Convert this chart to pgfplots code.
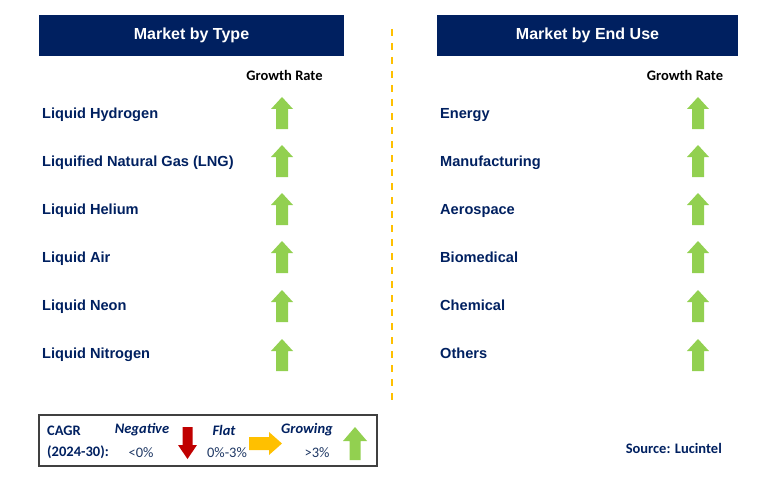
\documentclass[border=0pt]{standalone}
\usepackage{fontspec}
\setmainfont{Liberation Sans}
\newfontfamily\calibri{Carlito}
\usepackage{pgfplots}
\pgfplotsset{compat=1.18}
\definecolor{navy}{RGB}{0,32,96}
\definecolor{lblue}{RGB}{31,56,100}
\definecolor{agreen}{RGB}{146,208,80}
\definecolor{ared}{RGB}{192,0,0}
\definecolor{ayellow}{RGB}{255,192,0}
\definecolor{boxgray}{RGB}{64,64,64}
% main up arrow 22x32
\pgfdeclareplotmark{gup}{%
  \pgfpathmoveto{\pgfpoint{0pt}{16pt}}%
  \pgfpathlineto{\pgfpoint{11pt}{4pt}}%
  \pgfpathlineto{\pgfpoint{6pt}{4pt}}%
  \pgfpathlineto{\pgfpoint{6pt}{-16pt}}%
  \pgfpathlineto{\pgfpoint{-6pt}{-16pt}}%
  \pgfpathlineto{\pgfpoint{-6pt}{4pt}}%
  \pgfpathlineto{\pgfpoint{-11pt}{4pt}}%
  \pgfpathclose\pgfusepathqfill}
% legend up arrow 24x33
\pgfdeclareplotmark{lup}{%
  \pgfpathmoveto{\pgfpoint{0pt}{16.5pt}}%
  \pgfpathlineto{\pgfpoint{12pt}{2.5pt}}%
  \pgfpathlineto{\pgfpoint{5.5pt}{2.5pt}}%
  \pgfpathlineto{\pgfpoint{5.5pt}{-16.5pt}}%
  \pgfpathlineto{\pgfpoint{-5.5pt}{-16.5pt}}%
  \pgfpathlineto{\pgfpoint{-5.5pt}{2.5pt}}%
  \pgfpathlineto{\pgfpoint{-12pt}{2.5pt}}%
  \pgfpathclose\pgfusepathqfill}
% legend down arrow 19x32
\pgfdeclareplotmark{ldown}{%
  \pgfpathmoveto{\pgfpoint{0pt}{-16pt}}%
  \pgfpathlineto{\pgfpoint{9.5pt}{-2pt}}%
  \pgfpathlineto{\pgfpoint{5pt}{-2pt}}%
  \pgfpathlineto{\pgfpoint{5pt}{16pt}}%
  \pgfpathlineto{\pgfpoint{-5pt}{16pt}}%
  \pgfpathlineto{\pgfpoint{-5pt}{-2pt}}%
  \pgfpathlineto{\pgfpoint{-9.5pt}{-2pt}}%
  \pgfpathclose\pgfusepathqfill}
% legend right arrow 33x23
\pgfdeclareplotmark{lright}{%
  \pgfpathmoveto{\pgfpoint{16.5pt}{0pt}}%
  \pgfpathlineto{\pgfpoint{3.5pt}{11.5pt}}%
  \pgfpathlineto{\pgfpoint{3.5pt}{6.5pt}}%
  \pgfpathlineto{\pgfpoint{-16.5pt}{6.5pt}}%
  \pgfpathlineto{\pgfpoint{-16.5pt}{-6.5pt}}%
  \pgfpathlineto{\pgfpoint{3.5pt}{-6.5pt}}%
  \pgfpathlineto{\pgfpoint{3.5pt}{-11.5pt}}%
  \pgfpathclose\pgfusepathqfill}
\begin{document}
\begin{tikzpicture}
\begin{axis}[
  scale only axis, width=769pt, height=495pt,
  xmin=0, xmax=769, ymin=0, ymax=495, y dir=reverse,
  hide axis, clip=false]
\path (axis cs:0,0) rectangle (axis cs:769,495);
% header boxes
\fill[navy] (axis cs:39,15) rectangle (axis cs:344,56);
\fill[navy] (axis cs:437,15) rectangle (axis cs:738,56);
\node[text=white, font=\fontsize{16}{19}\selectfont\bfseries] at (axis cs:191.5,35.5) {Market by Type};
\node[text=white, font=\fontsize{16}{19}\selectfont\bfseries] at (axis cs:587.5,35.5) {Market by End Use};
% growth rate headers
\node[text=black, font=\fontsize{14.5}{17}\calibri\bfseries] at (axis cs:284.5,75) {Growth Rate};
\node[text=black, font=\fontsize{14.5}{17}\calibri\bfseries] at (axis cs:685,75) {Growth Rate};
% dashed divider
\draw[ayellow, line width=2pt, dash pattern=on 7pt off 7pt] (axis cs:392,29) -- (axis cs:392,401);
% labels
\begin{scope}[every node/.style={anchor=base west, text=navy, font=\fontsize{14.6}{17}\selectfont\bfseries, inner sep=0pt}]
\node at (axis cs:42,118.5) {Liquid Hydrogen};
\node at (axis cs:42,166.5) {Liquified Natural Gas (LNG)};
\node at (axis cs:42,214.5) {Liquid Helium};
\node at (axis cs:42,262.5) {Liquid Air};
\node at (axis cs:42,310.5) {Liquid Neon};
\node at (axis cs:42,358.5) {Liquid Nitrogen};
\node at (axis cs:440,118.5) {Energy};
\node at (axis cs:440,166.5) {Manufacturing};
\node at (axis cs:440,214.5) {Aerospace};
\node at (axis cs:440,262.5) {Biomedical};
\node at (axis cs:440,310.5) {Chemical};
\node at (axis cs:440,358.5) {Others};
\end{scope}
% growth arrows (type)
\addplot[only marks, mark=gup, color=agreen] coordinates {
(282,113) (282,161) (282,209) (282,257) (282,306) (282,355)};
% growth arrows (end use)
\addplot[only marks, mark=gup, color=agreen] coordinates {
(698,113) (698,161) (698,209) (698,257) (698,306) (698,355)};
% legend box
\draw[boxgray, line width=1.3pt] (axis cs:39,415) rectangle (axis cs:377,466);
\node[anchor=west, text=navy, font=\fontsize{14.5}{17}\calibri\bfseries, inner sep=0pt] at (axis cs:47,431) {CAGR};
\node[anchor=west, text=navy, font=\fontsize{14.5}{17}\calibri\bfseries, inner sep=0pt] at (axis cs:47,452) {(2024-30):};
\node[text=navy, font=\fontsize{14.5}{17}\calibri\bfseries\itshape] at (axis cs:142,430) {Negative};
\node[text=navy, font=\fontsize{14.5}{17}\calibri\bfseries\itshape] at (axis cs:224,430) {Flat};
\node[text=navy, font=\fontsize{14.5}{17}\calibri\bfseries\itshape] at (axis cs:307,430) {Growing};
\node[text=lblue, font=\fontsize{14.5}{17}\calibri] at (axis cs:141,453) {<0\%};
\node[text=lblue, font=\fontsize{14.5}{17}\calibri] at (axis cs:227,453) {0\%-3\%};
\node[text=lblue, font=\fontsize{14.5}{17}\calibri] at (axis cs:317,453) {>3\%};
\addplot[only marks, mark=ldown, color=ared] coordinates {(187.5,443)};
\addplot[only marks, mark=lright, color=ayellow] coordinates {(265.5,443.5)};
\addplot[only marks, mark=lup, color=agreen] coordinates {(355,443.5)};
% source
\node[anchor=east, text=navy, font=\fontsize{14.5}{17}\calibri\bfseries, inner sep=0pt] at (axis cs:722,448) {Source: Lucintel};
\end{axis}
\end{tikzpicture}
\end{document}
